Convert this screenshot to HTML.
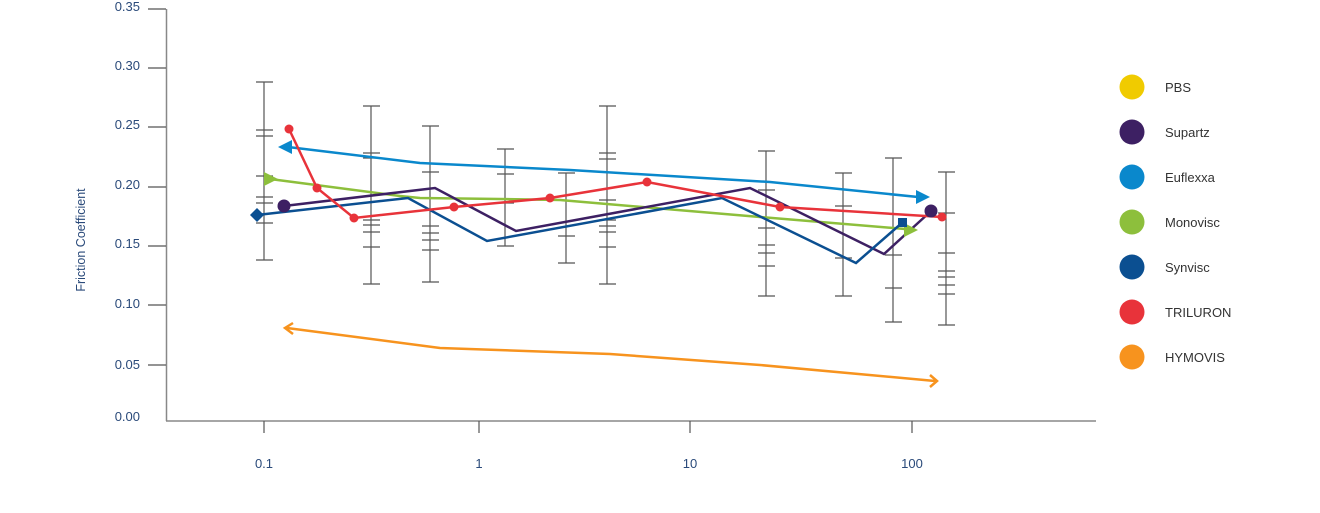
<!DOCTYPE html>
<html><head><meta charset="utf-8"><style>
html,body{margin:0;padding:0;background:#fff;}
svg{display:block;font-family:"Liberation Sans",sans-serif;}
</style></head><body>
<svg width="1320" height="513" viewBox="0 0 1320 513">
<g stroke="#888" stroke-width="1.5" fill="none">
<line x1="166.5" y1="9" x2="166.5" y2="421"/>
<line x1="166" y1="421" x2="1096" y2="421"/>
</g>
<g stroke="#555" stroke-width="1.2">
<line x1="148" y1="9" x2="166" y2="9"/><line x1="148" y1="68" x2="166" y2="68"/>
<line x1="148" y1="127" x2="166" y2="127"/><line x1="148" y1="187" x2="166" y2="187"/>
<line x1="148" y1="246" x2="166" y2="246"/><line x1="148" y1="305" x2="166" y2="305"/>
<line x1="148" y1="365" x2="166" y2="365"/>
<line x1="264" y1="421" x2="264" y2="433"/><line x1="479" y1="421" x2="479" y2="433"/>
<line x1="690" y1="421" x2="690" y2="433"/><line x1="912" y1="421" x2="912" y2="433"/>
</g>
<g fill="#2a4a7a" font-size="13" text-anchor="end">
<text x="140" y="11">0.35</text><text x="140" y="70">0.30</text><text x="140" y="129">0.25</text>
<text x="140" y="189">0.20</text><text x="140" y="248">0.15</text><text x="140" y="308">0.10</text>
<text x="140" y="369">0.05</text><text x="140" y="421">0.00</text>
</g>
<g fill="#2a4a7a" font-size="13" text-anchor="middle">
<text x="264" y="468">0.1</text><text x="479" y="468">1</text><text x="690" y="468">10</text><text x="912" y="468">100</text>
</g>
<text transform="translate(85,240) rotate(-90)" fill="#2a4a7a" font-size="12.5" text-anchor="middle">Friction Coefficient</text>
<g stroke="#555" stroke-width="1.2">
<line x1="264" y1="82" x2="264" y2="260"/><line x1="256" y1="82" x2="273" y2="82"/><line x1="256" y1="260" x2="273" y2="260"/>
<line x1="256" y1="130" x2="273" y2="130"/><line x1="256" y1="136" x2="273" y2="136"/><line x1="256" y1="176" x2="273" y2="176"/><line x1="256" y1="197" x2="273" y2="197"/><line x1="256" y1="203" x2="273" y2="203"/><line x1="256" y1="223" x2="273" y2="223"/>
<line x1="371" y1="106" x2="371" y2="284"/><line x1="363" y1="106" x2="380" y2="106"/><line x1="363" y1="284" x2="380" y2="284"/>
<line x1="363" y1="153" x2="380" y2="153"/><line x1="363" y1="158" x2="380" y2="158"/><line x1="363" y1="220" x2="380" y2="220"/><line x1="363" y1="225" x2="380" y2="225"/><line x1="363" y1="232" x2="380" y2="232"/><line x1="363" y1="247" x2="380" y2="247"/>
<line x1="430" y1="126" x2="430" y2="282"/><line x1="422" y1="126" x2="439" y2="126"/><line x1="422" y1="282" x2="439" y2="282"/>
<line x1="422" y1="172" x2="439" y2="172"/><line x1="422" y1="226" x2="439" y2="226"/><line x1="422" y1="233" x2="439" y2="233"/><line x1="422" y1="240" x2="439" y2="240"/><line x1="422" y1="250" x2="439" y2="250"/>
<line x1="505" y1="149" x2="505" y2="246"/><line x1="497" y1="149" x2="514" y2="149"/><line x1="497" y1="246" x2="514" y2="246"/><line x1="497" y1="174" x2="514" y2="174"/><line x1="497" y1="203" x2="514" y2="203"/>
<line x1="566" y1="173" x2="566" y2="263"/><line x1="558" y1="173" x2="575" y2="173"/><line x1="558" y1="263" x2="575" y2="263"/><line x1="558" y1="236" x2="575" y2="236"/>
<line x1="607" y1="106" x2="607" y2="284"/><line x1="599" y1="106" x2="616" y2="106"/><line x1="599" y1="284" x2="616" y2="284"/>
<line x1="599" y1="153" x2="616" y2="153"/><line x1="599" y1="159" x2="616" y2="159"/><line x1="599" y1="200" x2="616" y2="200"/><line x1="599" y1="220" x2="616" y2="220"/><line x1="599" y1="226" x2="616" y2="226"/><line x1="599" y1="232" x2="616" y2="232"/><line x1="599" y1="247" x2="616" y2="247"/>
<line x1="766" y1="151" x2="766" y2="296"/><line x1="758" y1="151" x2="775" y2="151"/><line x1="758" y1="296" x2="775" y2="296"/><line x1="758" y1="190" x2="775" y2="190"/><line x1="758" y1="228" x2="775" y2="228"/><line x1="758" y1="245" x2="775" y2="245"/><line x1="758" y1="253" x2="775" y2="253"/><line x1="758" y1="266" x2="775" y2="266"/>
<line x1="843" y1="173" x2="843" y2="296"/><line x1="835" y1="173" x2="852" y2="173"/><line x1="835" y1="296" x2="852" y2="296"/><line x1="835" y1="206" x2="852" y2="206"/><line x1="835" y1="258" x2="852" y2="258"/>
<line x1="893" y1="158" x2="893" y2="322"/><line x1="885" y1="158" x2="902" y2="158"/><line x1="885" y1="322" x2="902" y2="322"/><line x1="885" y1="288" x2="902" y2="288"/><line x1="885" y1="255" x2="902" y2="255"/>
<line x1="946" y1="172" x2="946" y2="325"/><line x1="938" y1="172" x2="955" y2="172"/><line x1="938" y1="325" x2="955" y2="325"/><line x1="938" y1="213" x2="955" y2="213"/><line x1="938" y1="253" x2="955" y2="253"/><line x1="938" y1="271" x2="955" y2="271"/><line x1="938" y1="277" x2="955" y2="277"/><line x1="938" y1="285" x2="955" y2="285"/><line x1="938" y1="294" x2="955" y2="294"/>
</g>
<g fill="none" stroke-width="2.5" stroke-linejoin="miter">
<polyline stroke="#f7931e" points="287,328 440,348 610,354 760,365 935,381"/>
<polyline stroke="#f7931e" points="293,323 285,328 293,334"/>
<polyline stroke="#f7931e" points="930,375 937,381 930,387"/>
<polyline stroke="#0a88cc" points="288,147 420,163 570,170 770,182 918,197"/>
<polyline stroke="#8dbf3c" points="270,179 400,196 420,198 500,199 560,200 760,217 905,229"/>
<polyline stroke="#3d2063" points="284,206 435,188 516,231 750,188 884,254 930,212"/>
<polyline stroke="#0b4f91" points="257,215 408,198 487,241 722,198 856,263 903,222"/>
<polyline stroke="#e8333a" points="289,129 317,188 354,218 454,207 550,198 647,182 780,207 942,217"/>
</g>
<polygon fill="#0a88cc" points="278,147 292,140 292,154"/>
<polygon fill="#0a88cc" points="930,197 916,190 916,204"/>
<polygon fill="#8dbf3c" points="278,179 264,172 264,186"/>
<polygon fill="#8dbf3c" points="918,230 904,223 904,237"/>
<polygon fill="#0b4f91" points="257,208 264,215 257,222 250,215"/>
<rect x="898" y="218" width="9" height="9" fill="#0b4f91"/>
<circle cx="284" cy="206" r="6.5" fill="#3d2063"/><circle cx="931" cy="211" r="6.5" fill="#3d2063"/>
<g fill="#e8333a"><circle cx="289" cy="129" r="4.5"/><circle cx="317" cy="188" r="4.5"/><circle cx="354" cy="218" r="4.5"/><circle cx="454" cy="207" r="4.5"/><circle cx="550" cy="198" r="4.5"/><circle cx="647" cy="182" r="4.5"/><circle cx="780" cy="207" r="4.5"/><circle cx="942" cy="217" r="4.5"/></g>
<g font-size="13" fill="#333">
<circle cx="1132" cy="87" r="12.5" fill="#f0cb00"/><text x="1165" y="92">PBS</text>
<circle cx="1132" cy="132" r="12.5" fill="#3d2063"/><text x="1165" y="137">Supartz</text>
<circle cx="1132" cy="177" r="12.5" fill="#0a88cc"/><text x="1165" y="182">Euflexxa</text>
<circle cx="1132" cy="222" r="12.5" fill="#8dbf3c"/><text x="1165" y="227">Monovisc</text>
<circle cx="1132" cy="267" r="12.5" fill="#0b4f91"/><text x="1165" y="272">Synvisc</text>
<circle cx="1132" cy="312" r="12.5" fill="#e8333a"/><text x="1165" y="317">TRILURON</text>
<circle cx="1132" cy="357" r="12.5" fill="#f7931e"/><text x="1165" y="362">HYMOVIS</text>
</g>
</svg>
</body></html>
